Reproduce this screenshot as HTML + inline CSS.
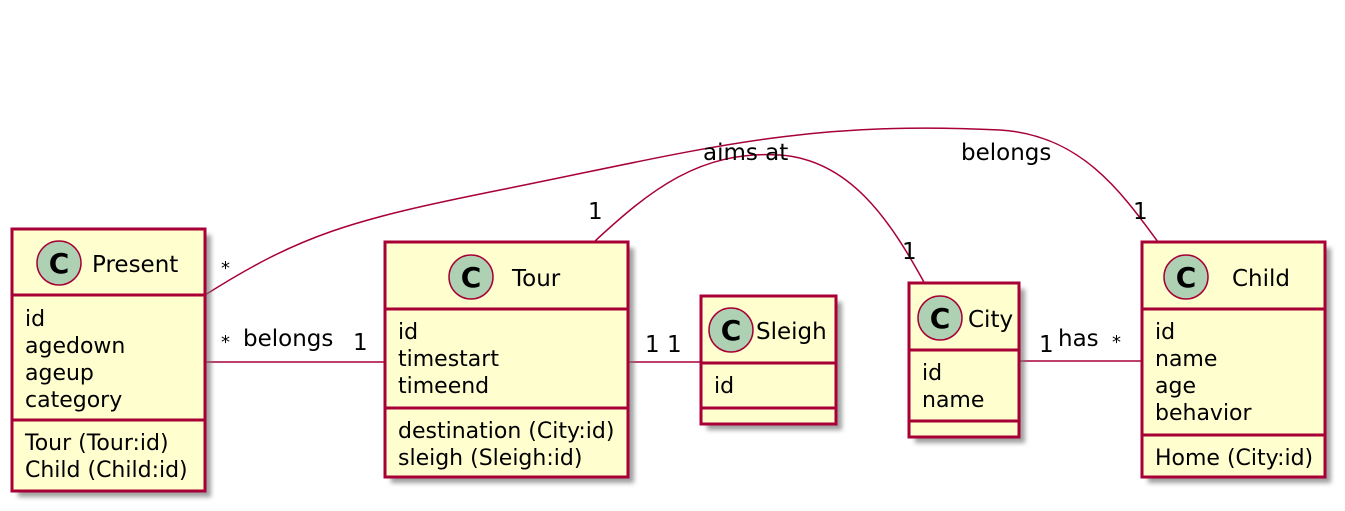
<!DOCTYPE html>
<html><head><style>body{margin:0;background:#fff}svg{display:block}text{font-family:"DejaVu Sans","Liberation Sans",sans-serif;fill:#000}</style></head><body>
<svg width="1345" height="511" viewBox="0 0 1345 511" xmlns="http://www.w3.org/2000/svg">
<defs><filter id="sh" x="-10%" y="-10%" width="130%" height="130%"><feGaussianBlur stdDeviation="2.5"/></filter></defs>
<g fill="none" stroke="#A80036" stroke-width="1.5">
<path d="M205,295 C300,235 350,220 500,190 C700,150 800,120 1000,130 C1080,135 1120,190 1158,242"/>
<path d="M594,242 C650,190 700,150 780,155 C850,160 890,220 925,284"/>
<line x1="205" y1="362" x2="385" y2="362"/>
<line x1="628" y1="362" x2="701" y2="362"/>
<line x1="1019" y1="361" x2="1142" y2="361"/>
</g>
<g font-size="23">
<text x="703" y="160">aims at</text>
<text x="961" y="160">belongs</text>
<text x="588" y="219">1</text>
<text x="902" y="259">1</text>
<text x="1133" y="219">1</text>
<text x="221" y="274" font-size="18">*</text>
<text x="221" y="348" font-size="18">*</text>
<text x="243" y="346">belongs</text>
<text x="353" y="350">1</text>
<text x="645" y="352">1</text>
<text x="667" y="352">1</text>
<text x="1039" y="352">1</text>
<text x="1058" y="346">has</text>
<text x="1112" y="348" font-size="18">*</text>
</g>
<g fill="#777" opacity="0.7" filter="url(#sh)">
<rect x="18" y="235" width="193" height="262"/>
<rect x="391" y="248" width="243" height="235"/>
<rect x="707" y="302" width="135" height="128"/>
<rect x="915" y="289" width="110" height="154"/>
<rect x="1148" y="248" width="183" height="235"/>
</g>
<g fill="#FEFECE" stroke="#A80036" stroke-width="3">
<rect x="12" y="229" width="193" height="262"/>
<rect x="385" y="242" width="243" height="235"/>
<rect x="701" y="296" width="135" height="128"/>
<rect x="909" y="283" width="110" height="154"/>
<rect x="1142" y="242" width="183" height="235"/>
</g>
<g stroke="#A80036" stroke-width="3">
<line x1="12" y1="295" x2="205" y2="295"/><line x1="12" y1="420" x2="205" y2="420"/>
<line x1="385" y1="309" x2="628" y2="309"/><line x1="385" y1="408" x2="628" y2="408"/>
<line x1="701" y1="363" x2="836" y2="363"/><line x1="701" y1="408" x2="836" y2="408"/>
<line x1="909" y1="350" x2="1019" y2="350"/><line x1="909" y1="421" x2="1019" y2="421"/>
<line x1="1142" y1="309" x2="1325" y2="309"/><line x1="1142" y1="435" x2="1325" y2="435"/>
</g>
<g fill="#ADD1B2" stroke="#A80036" stroke-width="1.5">
<circle cx="59" cy="263" r="22"/><circle cx="471" cy="277" r="22"/>
<circle cx="731" cy="330" r="22"/><circle cx="940" cy="318" r="22"/>
<circle cx="1186" cy="277" r="22"/>
</g>
<g font-size="28" font-weight="bold" text-anchor="middle">
<text x="59" y="273">C</text><text x="471" y="287">C</text><text x="731" y="340">C</text><text x="940" y="328">C</text><text x="1186" y="287">C</text>
</g>
<g font-size="23">
<text x="92" y="272">Present</text>
<text x="512" y="286">Tour</text>
<text x="756" y="339">Sleigh</text>
<text x="968" y="327">City</text>
<text x="1232" y="286">Child</text>
</g>
<g font-size="22">
<text x="25" y="326">id</text><text x="25" y="353">agedown</text><text x="25" y="380">ageup</text><text x="25" y="407">category</text>
<text x="25" y="450">Tour (Tour:id)</text><text x="25" y="477">Child (Child:id)</text>
<text x="398" y="339">id</text><text x="398" y="366">timestart</text><text x="398" y="393">timeend</text>
<text x="398" y="438">destination (City:id)</text><text x="398" y="465">sleigh (Sleigh:id)</text>
<text x="714" y="393">id</text>
<text x="922" y="380">id</text><text x="922" y="407">name</text>
<text x="1155" y="339">id</text><text x="1155" y="366">name</text><text x="1155" y="393">age</text><text x="1155" y="420">behavior</text>
<text x="1155" y="465">Home (City:id)</text>
</g>
</svg>
</body></html>
